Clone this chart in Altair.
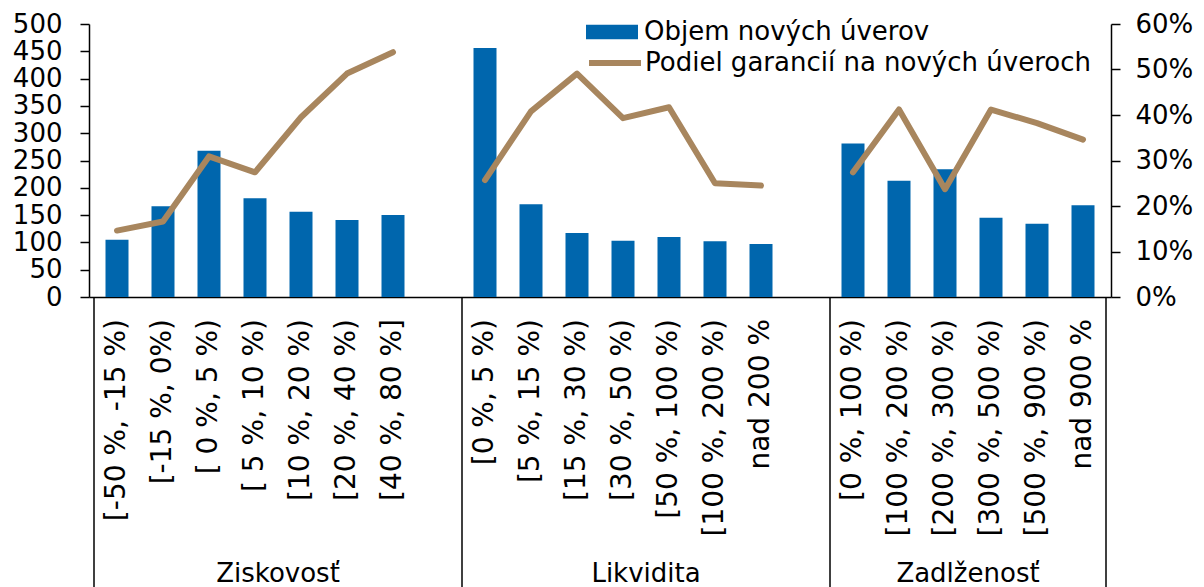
import altair as alt
import pandas as pd

# ---------------- data ----------------
groups = ["Ziskovosť", "Likvidita", "Zadlženosť"]
cats_zisk = ["[-50 %, -15 %)", "[-15 %, 0%)", "[ 0 %, 5 %)", "[ 5 %, 10 %)",
             "[10 %, 20 %)", "[20 %, 40 %)", "[40 %, 80 %]"]
cats_likv = ["[0 %, 5 %)", "[5 %, 15 %)", "[15 %, 30 %)", "[30 %, 50 %)",
             "[50 %, 100 %)", "[100 %, 200 %)", "nad 200 %"]
cats_zadl = ["[0 %, 100 %)", "[100 %, 200 %)", "[200 %, 300 %)", "[300 %, 500 %)",
             "[500 %, 900 %)", "nad 900 %"]
vol_zisk = [105, 166, 268, 181, 156, 141, 150]
vol_likv = [456, 170, 117, 103, 110, 102, 97]
vol_zadl = [281, 213, 234, 145, 134, 168]
share_zisk = [14.6, 16.6, 30.9, 27.4, 39.5, 49.1, 53.8]
share_likv = [25.7, 40.8, 49.1, 39.3, 41.7, 25.0, 24.5]
share_zadl = [27.4, 41.2, 23.7, 41.2, 38.2, 34.6]
series_bar = "Objem nových úverov"
series_line = "Podiel garancií na nových úveroch"

# slot layout: one empty slot between groups
group_start = [0, 8, 16]
group_end = [8, 16, 22]
boundaries = [0, 8, 16, 22]

rows = []
for g, start, cats, vols, shares in zip(groups, group_start,
                                         [cats_zisk, cats_likv, cats_zadl],
                                         [vol_zisk, vol_likv, vol_zadl],
                                         [share_zisk, share_likv, share_zadl]):
    for i, (c, v, s) in enumerate(zip(cats, vols, shares)):
        rows.append({"group": g, "pos": start + i + 0.5, "cat": c, "volume": v,
                     "share": s, "s_bar": series_bar, "s_line": series_line})
df = pd.DataFrame(rows)
df_groups = pd.DataFrame({"group": groups,
                          "center": [(a + b) / 2 for a, b in zip(group_start, group_end)]})
df_bounds = pd.DataFrame({"b": boundaries})

# ---------------- style ----------------
BLUE = "#0066ad"
BROWN = "#a8865e"
FONT = "DejaVu Sans"
W, H = 1022, 273

x_scale = alt.Scale(domain=[0, 22], nice=False, zero=False)

bars = alt.Chart(df).mark_bar(size=23).encode(
    x=alt.X("pos:Q", scale=x_scale,
            axis=alt.Axis(labels=False, ticks=False, grid=False, title=None,
                          domainColor="black", domainWidth=1.5)),
    y=alt.Y("volume:Q", scale=alt.Scale(domain=[0, 500], nice=False),
            axis=alt.Axis(orient="left", values=list(range(0, 501, 50)), grid=False,
                          title=None, labelFontSize=26, labelFont=FONT, labelColor="black",
                          tickSize=9, tickColor="black", domainColor="black",
                          labelPadding=18, domainWidth=1.5, tickWidth=1.5)),
    fill=alt.Fill("s_bar:N", scale=alt.Scale(domain=[series_bar], range=[BLUE]),
                  legend=alt.Legend(orient="none", legendX=497, legendY=-18, title=None,
                                    symbolType="M-1,-0.28L1,-0.28L1,0.28L-1,0.28Z",
                                    symbolSize=2704, symbolStrokeWidth=0,
                                    labelFontSize=26, labelFont=FONT, labelColor="black",
                                    labelOffset=6, labelLimit=0, padding=0)),
)

line = alt.Chart(df).mark_line(strokeWidth=6, strokeCap="round", strokeJoin="round").encode(
    x=alt.X("pos:Q", scale=x_scale),
    y=alt.Y("share:Q", scale=alt.Scale(domain=[0, 60], nice=False),
            axis=alt.Axis(orient="right", values=list(range(0, 61, 10)), grid=False,
                          title=None, labelExpr="datum.value + '%'",
                          labelFontSize=26, labelFont=FONT, labelColor="black",
                          tickSize=9, tickColor="black", domainColor="black",
                          labelPadding=15, domainWidth=1.5, tickWidth=1.5)),
    stroke=alt.Stroke("s_line:N", scale=alt.Scale(domain=[series_line], range=[BROWN]),
                      legend=alt.Legend(orient="none", legendX=497, legendY=10, title=None,
                                        symbolType="stroke", symbolSize=2704,
                                        symbolStrokeWidth=6,
                                        labelFontSize=26, labelFont=FONT, labelColor="black",
                                        labelOffset=1, labelLimit=0, padding=0)),
    detail="group:N",
)

seps = alt.Chart(df_bounds).mark_rule(color="black", strokeWidth=1.5).encode(
    x=alt.X("b:Q", scale=x_scale),
    y=alt.value(H),
    y2=alt.value(H + 300),
)

cat_text = alt.Chart(df).mark_text(angle=270, align="right", baseline="middle",
                                   fontSize=28, font=FONT, color="black").encode(
    x=alt.X("pos:Q", scale=x_scale),
    y=alt.value(H + 22),
    text="cat:N",
)

grp_text = alt.Chart(df_groups).mark_text(align="center", baseline="middle",
                                          fontSize=26, font=FONT, color="black").encode(
    x=alt.X("center:Q", scale=x_scale),
    y=alt.value(H + 277),
    text="group:N",
)

chart = alt.layer(bars, line, seps, cat_text, grp_text).resolve_scale(
    y="independent", fill="independent", stroke="independent"
).properties(
    width=W, height=H,
    autosize=alt.AutoSizeParams(type="none"),
    padding={"left": 81, "top": 16, "right": 85, "bottom": 290},
    background="white",
).configure_view(stroke=None)

chart.save("out.html", embed_options={"renderer": "svg", "actions": False})
